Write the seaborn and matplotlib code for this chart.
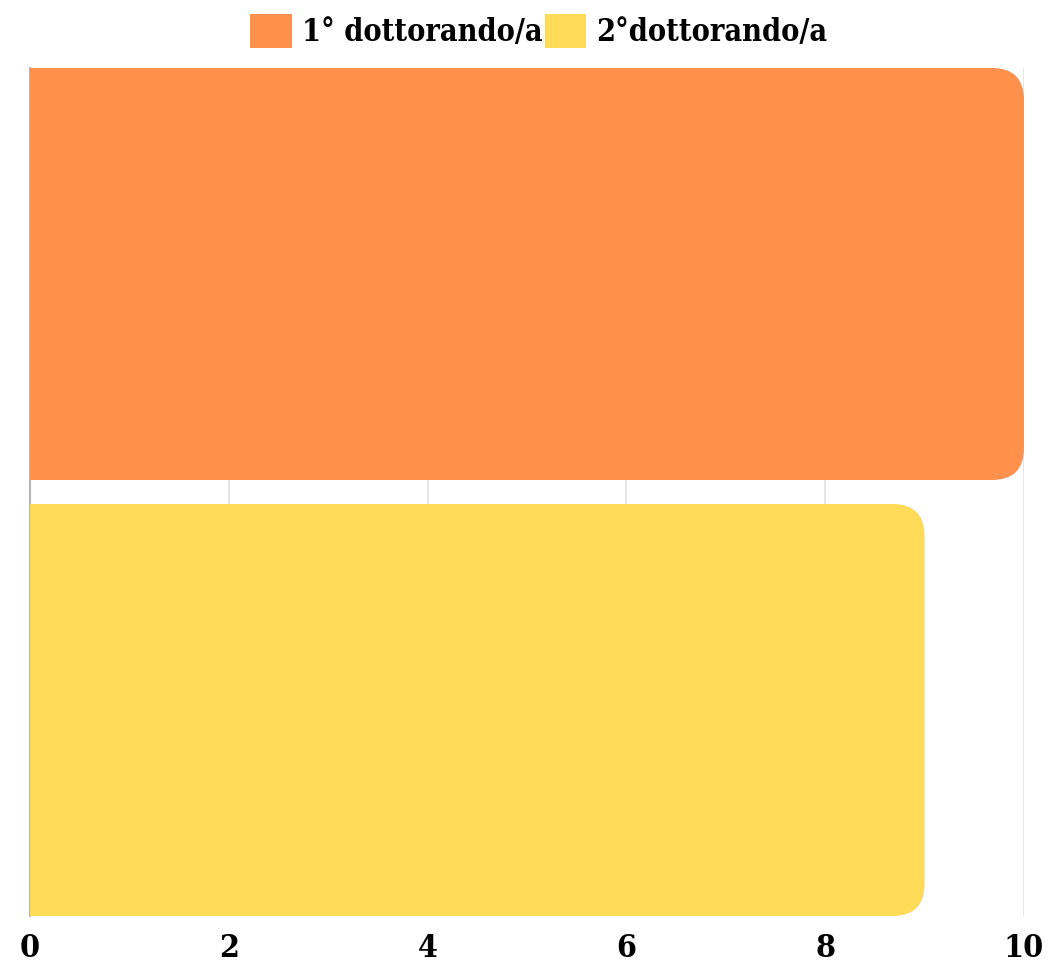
import matplotlib
matplotlib.use('Agg')
import matplotlib.pyplot as plt
from matplotlib.patches import FancyBboxPatch
import pandas as pd
import seaborn as sns

# data
categories = ['']
series = ['1° dottorando/a', '2°dottorando/a']
values = [10, 9]
colors = ['#FF914D', '#FFDB58']

df = pd.DataFrame({
    'categoria': categories * len(series),
    'serie': series,
    'valore': values,
})

sns.set_style('white')
plt.rcParams['font.family'] = ['DejaVu Serif', 'DejaVu Sans']

W, H = 1061, 964
fig = plt.figure(figsize=(W / 100, H / 100), dpi=100)
left, right, top, bottom = 30, 1024, 68, 916
ax = fig.add_axes([left / W, 1 - bottom / H, (right - left) / W, (bottom - top) / H])

sns.barplot(data=df, x='valore', y='categoria', hue='serie', orient='h',
            palette=colors, saturation=1, gap=0.055, width=0.8, ax=ax,
            zorder=3, edgecolor='none', linewidth=0)

bars = [p for p in ax.patches if p.get_width() > 0]
y_lo = min(p.get_y() for p in bars)
y_hi = max(p.get_y() + p.get_height() for p in bars)
ax.set_xlim(0, 10)
ax.set_ylim(y_hi, y_lo)
ax.set_xticks(range(0, 11, 2))

ax.grid(axis='x', color='#e2e2e2', linewidth=1.2, zorder=0)
ax.grid(axis='y', visible=False)
for s in ['top', 'right', 'bottom']:
    ax.spines[s].set_visible(False)
ax.spines['left'].set_color('#b5b5b5')
ax.spines['left'].set_linewidth(1.5)
ax.set_xlabel('')
ax.set_ylabel('')
ax.set_yticks([])
ax.tick_params(axis='x', length=0, pad=12)
for lbl in ax.get_xticklabels():
    lbl.set_fontsize(23)
    lbl.set_fontweight('heavy')
    lbl.set_fontstretch('condensed')
    lbl.set_color('#000000')

# rounded right ends like the original
px_x = (right - left) / 10
px_y = (bottom - top) / (y_hi - y_lo)
r_px = 32
for p in bars:
    clip = FancyBboxPatch((-1, p.get_y()), p.get_width() + 1, p.get_height(),
                          boxstyle=f'round,pad=0,rounding_size={r_px / px_x}',
                          mutation_aspect=px_x / px_y, transform=ax.transData)
    p.set_clip_path(clip)

handles, labels = ax.get_legend_handles_labels()
ax.get_legend().remove()
leg = fig.legend(handles, labels, loc='upper center', bbox_to_anchor=(0.508, 1.0),
                 ncol=2, frameon=False, handlelength=1.35, handleheight=1.35,
                 handletextpad=0.35, columnspacing=0.05, borderaxespad=0.05,
                 labelcolor='#000000',
                 prop={'family': 'DejaVu Serif', 'weight': 'heavy', 'size': 22,
                       'stretch': 'condensed'})

fig.savefig('out.png', dpi=100)
